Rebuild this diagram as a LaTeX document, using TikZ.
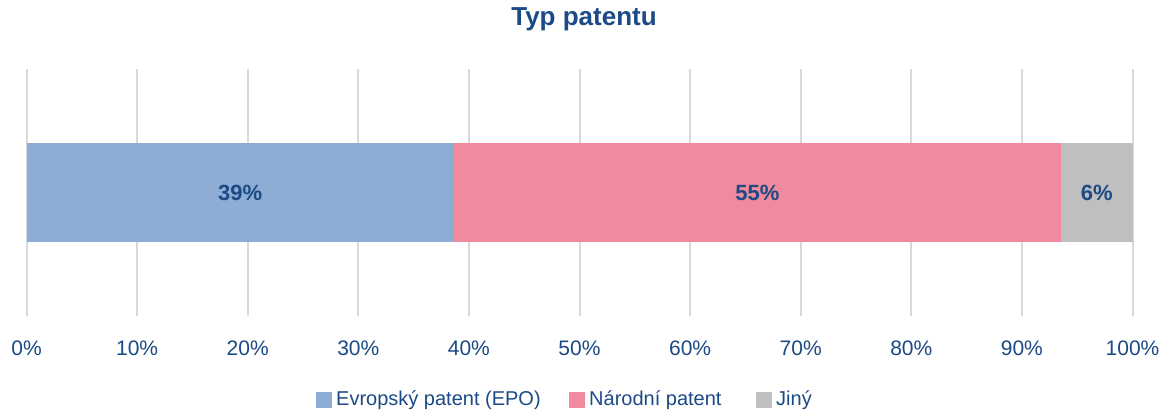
\documentclass[tikz,border=0pt]{standalone}
\usepackage{fontspec}
\setmainfont{Liberation Sans}
\definecolor{txt}{RGB}{28,74,134}
\definecolor{cblue}{RGB}{142,173,213}
\definecolor{cpink}{RGB}{240,138,158}
\definecolor{cgray}{RGB}{191,191,191}
\definecolor{grid}{RGB}{217,217,217}
\begin{document}
\begin{tikzpicture}[x=1pt,y=-1pt,
  ticklbl/.style={text=txt,font=\fontsize{21}{24}\selectfont,anchor=center,inner sep=0pt},
  barlbl/.style={text=txt,font=\bfseries\fontsize{22}{25}\selectfont,anchor=center,inner sep=0pt},
  leglbl/.style={text=txt,font=\fontsize{20}{24}\selectfont,anchor=west,inner sep=0pt},
  gridline/.style={draw=grid,line width=2pt},
  legbox/.style={inner sep=0pt,minimum size=16pt}]
\path[use as bounding box,fill=white] (0,0) rectangle (1168,412);
\node[text=txt,font=\bfseries\fontsize{26}{30}\selectfont] (title) at (584,19) {Typ patentu};
\foreach \i/\lab in {0/0,1/10,2/20,3/30,4/40,5/50,6/60,7/70,8/80,9/90,10/100}{
  \pgfmathsetmacro{\xx}{26.5+110.6*\i}
  \draw[gridline] (\xx,69) -- (\xx,316);
  \node[ticklbl] (t\i) at (\xx,348) {\lab\%};
}
\fill[cblue] (26.5,143) rectangle (454,242);
\fill[cpink] (454,143) rectangle (1061,242);
\fill[cgray] (1061,143) rectangle (1132.5,242);
\node[barlbl] (l1) at (240.25,193) {39\%};
\node[barlbl] (l2) at (757.5,193) {55\%};
\node[barlbl] (l3) at (1096.75,193) {6\%};
\node[legbox,fill=cblue] (s1) at (324,400) {};
\node[leglbl] (g1) at (336,400) {Evropský patent (EPO)};
\node[legbox,fill=cpink] (s2) at (577,400) {};
\node[leglbl] (g2) at (589,400) {Národní patent};
\node[legbox,fill=cgray] (s3) at (764,400) {};
\node[leglbl] (g3) at (776,400) {Jiný};
\end{tikzpicture}
\end{document}
